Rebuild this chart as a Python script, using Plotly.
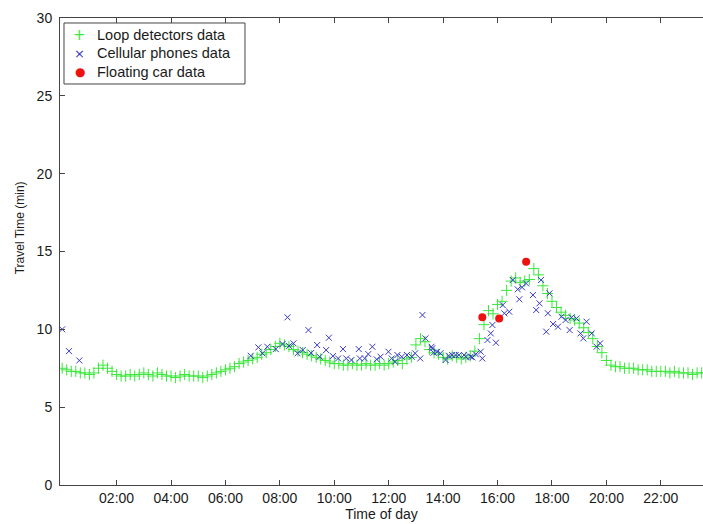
import plotly.graph_objects as go

# Loop detectors: one value every 10 minutes from 00:00
loop_start_h = 0.0
loop_step_h = 10 / 60
loop_values = [
    7.5, 7.4, 7.3, 7.3, 7.2, 7.2,
    7.1, 7.2, 7.5, 7.7, 7.5, 7.3,
    7.1, 7.0, 7.0, 7.1, 7.0, 7.1,
    7.2, 7.1, 7.0, 7.2, 7.1, 7.0,
    7.0, 6.9, 7.0, 7.1, 7.0, 7.0,
    7.0, 6.9, 7.0, 7.1, 7.2, 7.3,
    7.4, 7.5, 7.6, 7.8, 7.9, 8.0,
    8.1, 8.2, 8.4, 8.5, 8.7, 8.9,
    9.1, 9.0, 8.9, 8.7, 8.6, 8.5,
    8.4, 8.3, 8.2, 8.1, 8.0, 7.9,
    7.8, 7.8, 7.7, 7.7, 7.8, 7.7,
    7.7, 7.8, 7.7, 7.7, 7.8, 7.7,
    7.8, 7.9, 8.0, 7.8, 8.1, 8.2,
    9.0, 9.4, 9.2, 8.7, 8.5, 8.4,
    8.2, 8.1, 8.3, 8.2, 8.1, 8.2,
    8.3, 8.6, 9.4, 10.3, 11.2, 11.0,
    11.6, 11.8, 12.5, 13.1, 13.3, 13.0,
    13.1, 13.2, 13.9, 13.5, 12.8, 12.3,
    11.8, 11.4, 11.1, 10.9, 10.7, 10.6,
    10.4, 10.1, 9.8, 9.4, 8.9, 8.5,
    8.0, 7.7, 7.6, 7.6, 7.5, 7.5,
    7.5, 7.4, 7.4, 7.4, 7.3, 7.3,
    7.3, 7.3, 7.2, 7.3, 7.2, 7.2,
    7.2, 7.1, 7.2, 7.2, 7.2,
]
loop_hours = [loop_start_h + i * loop_step_h for i in range(len(loop_values))]

# Cellular phones
cell_hours = [
    0.0, 0.25, 0.63,
    6.93, 7.21, 7.36, 7.54, 7.85, 8.1, 8.28, 8.34, 8.5, 8.65, 8.84, 9.05,
    9.15, 9.37, 9.46, 9.7, 9.8, 9.95, 10.14, 10.32, 10.44, 10.63, 10.9,
    10.94, 11.12, 11.25, 11.4, 11.56, 11.7, 11.99, 12.11, 12.23, 12.32,
    12.48, 12.67, 12.85, 12.97, 13.16, 13.24, 13.35, 13.57, 13.6, 13.65,
    13.78, 13.9, 14.09, 14.2, 14.33, 14.46, 14.58, 14.77, 14.83, 15.01,
    15.07, 15.2, 15.38, 15.44, 15.63, 15.75, 15.81, 15.94, 16.19, 16.25,
    16.43, 16.56, 16.74, 16.8, 16.9, 17.05, 17.3, 17.42, 17.54, 17.6,
    17.79, 17.85, 17.91, 18.04, 18.22, 18.35, 18.5, 18.65, 18.72, 18.9,
    19.05, 19.15, 19.27, 19.46, 19.64, 19.77,
]
cell_values = [
    10.0, 8.6, 8.0,
    8.3, 8.84, 8.46, 8.88, 8.73, 9.06, 10.77, 8.93, 9.1, 8.46, 8.67, 9.95,
    8.48, 8.99, 8.24, 8.67, 9.46, 8.28, 8.13, 8.73, 8.13, 8.03, 8.73,
    8.13, 8.13, 8.41, 8.88, 8.07, 8.24, 8.56, 8.13, 7.92, 8.35,
    8.24, 8.35, 8.24, 8.46, 8.13, 10.92, 9.42, 8.88, 8.78, 8.5,
    8.56, 8.46, 8.03, 8.3, 8.35, 8.35, 8.35, 8.35, 8.24, 8.24,
    8.2, 8.4, 8.56, 8.13, 9.31, 9.74, 10.28, 9.14, 11.56, 11.03,
    11.13, 13.17, 12.57, 11.93, 12.7, 12.95, 12.2, 11.24, 11.67, 13.17,
    9.85, 11.03, 12.31, 10.34, 10.17, 10.81, 10.6, 9.95, 10.77, 10.7,
    9.74, 9.42, 10.49, 9.74, 8.88, 9.1,
]

# Floating car
car_hours = [15.44, 16.06, 17.05]
car_values = [10.77, 10.7, 14.34]

tick_hours = [2, 4, 6, 8, 10, 12, 14, 16, 18, 20, 22]
tick_labels = ["02:00", "04:00", "06:00", "08:00", "10:00", "12:00",
               "14:00", "16:00", "18:00", "20:00", "22:00"]

series_names = ["Loop detectors data", "Cellular phones data", "Floating car data"]
series_colors = ["#3be83b", "#3838cc", "#ee1111"]
legend_glyphs = ["+", "\u00d7", "\u25cf"]

fig = go.Figure()
fig.add_trace(go.Scatter(
    x=loop_hours, y=loop_values, mode="markers", name=series_names[0], showlegend=False,
    marker=dict(symbol="cross-thin", size=8, line=dict(color=series_colors[0], width=1), color=series_colors[0]),
))
fig.add_trace(go.Scatter(
    x=cell_hours, y=cell_values, mode="markers", name=series_names[1], showlegend=False,
    marker=dict(symbol="x-thin", size=6, line=dict(color=series_colors[1], width=1), color=series_colors[1]),
))
fig.add_trace(go.Scatter(
    x=car_hours, y=car_values, mode="markers", name=series_names[2], showlegend=False,
    marker=dict(symbol="circle", size=8, color=series_colors[2]),
))

axis_col = "#444444"

# Legend box drawn by hand (MATLAB-style compact legend)
fig.add_shape(type="rect", xref="paper", yref="paper",
              x0=0.0062, x1=0.2877, y0=0.8587, y1=0.9893,
              line=dict(color=axis_col, width=1), fillcolor="white", layer="above")
row_y = [0.9636, 0.9240, 0.8844]
glyph_sizes = [15, 13, 12]
for name, col, g, gs, yy in zip(series_names, series_colors, legend_glyphs, glyph_sizes, row_y):
    fig.add_annotation(xref="paper", yref="paper", x=0.0311, y=yy, text=g,
                       showarrow=False, xanchor="center", yanchor="middle", borderpad=0,
                       font=dict(size=gs, color=col, family="DejaVu Sans"))
    fig.add_annotation(xref="paper", yref="paper", x=0.056, y=yy, text=name,
                       showarrow=False, xanchor="left", yanchor="middle", borderpad=0,
                       font=dict(size=14.5, color="#1a1a1a"))

# Y axis title (placed as in the reference, slightly above centre)
fig.add_annotation(xref="paper", yref="paper", x=-0.062, y=0.55, text="Travel Time (min)",
                   textangle=-90, showarrow=False, xanchor="center", yanchor="middle",
                   font=dict(size=12, color="#1a1a1a"))

fig.update_layout(
    width=703, height=524,
    margin=dict(l=60, r=0, t=18, b=39),
    paper_bgcolor="white", plot_bgcolor="white",
    font=dict(family="Liberation Sans, Arial, sans-serif", size=14, color="#1a1a1a"),
    showlegend=False,
    xaxis=dict(
        range=[-0.08, 23.55], tickvals=tick_hours, ticktext=tick_labels,
        showgrid=False, zeroline=False, showline=True, linecolor=axis_col, linewidth=1,
        mirror="ticks", ticks="inside", ticklen=5, tickcolor=axis_col,
        tickfont=dict(size=14),
        title=dict(text="Time of day", standoff=3, font=dict(size=14)),
    ),
    yaxis=dict(
        range=[0, 30], tickvals=[0, 5, 10, 15, 20, 25, 30],
        showgrid=False, zeroline=False, showline=True, linecolor=axis_col, linewidth=1,
        ticks="inside", ticklen=5, tickcolor=axis_col,
        tickfont=dict(size=14), ticklabelstandoff=4,
    ),
)

fig.write_html("out.html")
